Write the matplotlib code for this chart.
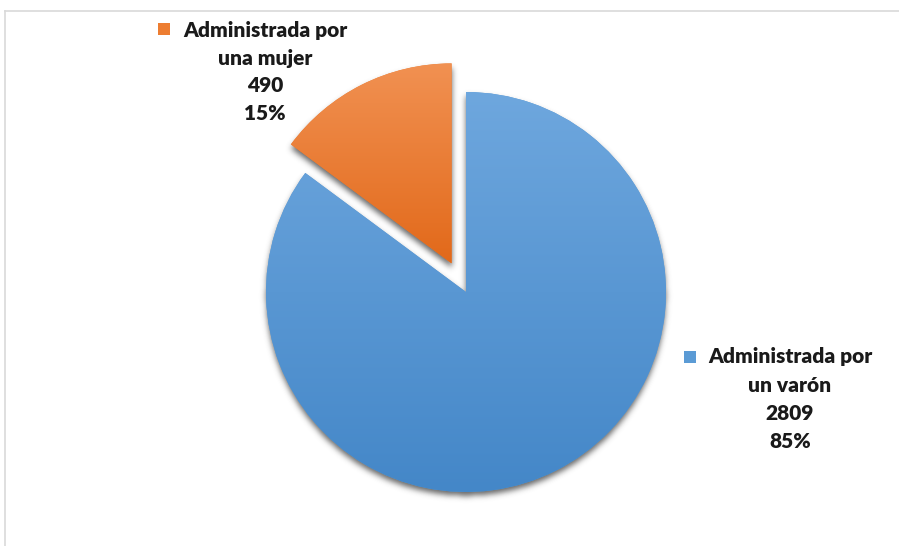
import numpy as np
import matplotlib
matplotlib.use("Agg")
import matplotlib.pyplot as plt
from matplotlib.lines import Line2D
from matplotlib.colors import LinearSegmentedColormap

# ---- data ----
categories = ["Administrada por\nuna mujer", "Administrada por\nun varón"]
values = [490, 2809]
percents = ["15%", "85%"]
colors = ["#ED7D31", "#5B9BD5"]
grad_top = ["#F19152", "#6EA7DE"]
grad_bot = ["#E2691A", "#4487C8"]
explode = [0.16, 0.0]

W, H = 899, 546
fig = plt.figure(figsize=(W / 100, H / 100), dpi=100)
fig.patch.set_facecolor("white")

cx, cy, R = 466, 292, 200   # pixel centre / radius of the pie
half = 1.25
ax = fig.add_axes([(cx - half * R) / W, (H - cy - half * R) / H, 2 * half * R / W, 2 * half * R / H])
ax.set_xlim(-half, half)
ax.set_ylim(-half, half)
ax.set_aspect("equal")
ax.axis("off")

wedges, _ = ax.pie(values, colors=colors, startangle=90, counterclock=True,
                   explode=explode, radius=1.0, center=(0, 0), frame=True,
                   wedgeprops=dict(linewidth=0))
ax.set_xlim(-half, half)
ax.set_ylim(-half, half)
ax.axis("off")

# ---- soft shadow ----
N = 500
xs = np.linspace(-half, half, N)
X, Y = np.meshgrid(xs, xs[::-1])
mask = np.zeros_like(X)
for w in wedges:
    wx, wy = w.center
    d = np.hypot(X - wx, Y - wy)
    ang = np.degrees(np.arctan2(Y - wy, X - wx)) % 360
    t1, t2 = w.theta1 % 360, w.theta2 % 360
    if t1 < t2:
        inside = (ang >= t1) & (ang <= t2)
    else:
        inside = (ang >= t1) | (ang <= t2)
    mask[(d <= w.r) & inside] = 1.0
shift = 4
mask = np.roll(mask, shift, axis=0)
sigma = 3.0
k = np.arange(-10, 11)
g = np.exp(-k ** 2 / (2 * sigma ** 2)); g /= g.sum()
blur = np.apply_along_axis(lambda m: np.convolve(m, g, mode="same"), 0, mask)
blur = np.apply_along_axis(lambda m: np.convolve(m, g, mode="same"), 1, blur)
rgba = np.zeros((N, N, 4))
rgba[..., :3] = 0.2
rgba[..., 3] = blur * 0.75
ax.imshow(rgba, extent=[-half, half, -half, half], zorder=0.5, interpolation="bilinear")

# ---- gradient fills ----
for w, ct, cb in zip(wedges, grad_top, grad_bot):
    w.set_zorder(1)
    wx, wy = w.center
    ys = [wy, wy + w.r]
    if w.theta2 - w.theta1 > 180:
        ys = [wy - w.r, wy + w.r]
    cmap = LinearSegmentedColormap.from_list("g", [cb, ct])
    grad = np.linspace(1, 0, 256).reshape(-1, 1)
    im = ax.imshow(grad, cmap=cmap, aspect="auto",
                   extent=[wx - w.r, wx + w.r, min(ys), max(ys)], zorder=1.1)
    im.set_clip_path(w)
ax.set_xlim(-half, half)
ax.set_ylim(-half, half)

# ---- labels ----
font = dict(family=["Lato", "DejaVu Sans"], weight="heavy", color="#1A1A1A", fontsize=15)
lines_o = categories[0].split("\n") + [str(values[0]), percents[0]]
lines_b = categories[1].split("\n") + [str(values[1]), percents[1]]
def put_label(lines, xc, y0, col, mx, my):
    for i, s in enumerate(lines):
        fig.text(xc / W, 1 - (y0 + 28 * i) / H, s, ha="center", va="center", **font)
    fig.patches.append(plt.Rectangle((mx / W, 1 - (my + 12) / H), 12 / W, 12 / H,
                                     transform=fig.transFigure, facecolor=col,
                                     edgecolor="none"))
put_label(lines_o, 265, 30, colors[0], 158, 23)
put_label(lines_b, 790, 357, colors[1], 684, 351)

# ---- chart border ----
fig.add_artist(Line2D([5 / W, 1], [1 - 11 / H, 1 - 11 / H], color="#D9D9D9", lw=1.2))
fig.add_artist(Line2D([5 / W, 5 / W], [0, 1 - 11 / H], color="#D9D9D9", lw=1.2))

fig.savefig("out.png", dpi=100, facecolor="white")
